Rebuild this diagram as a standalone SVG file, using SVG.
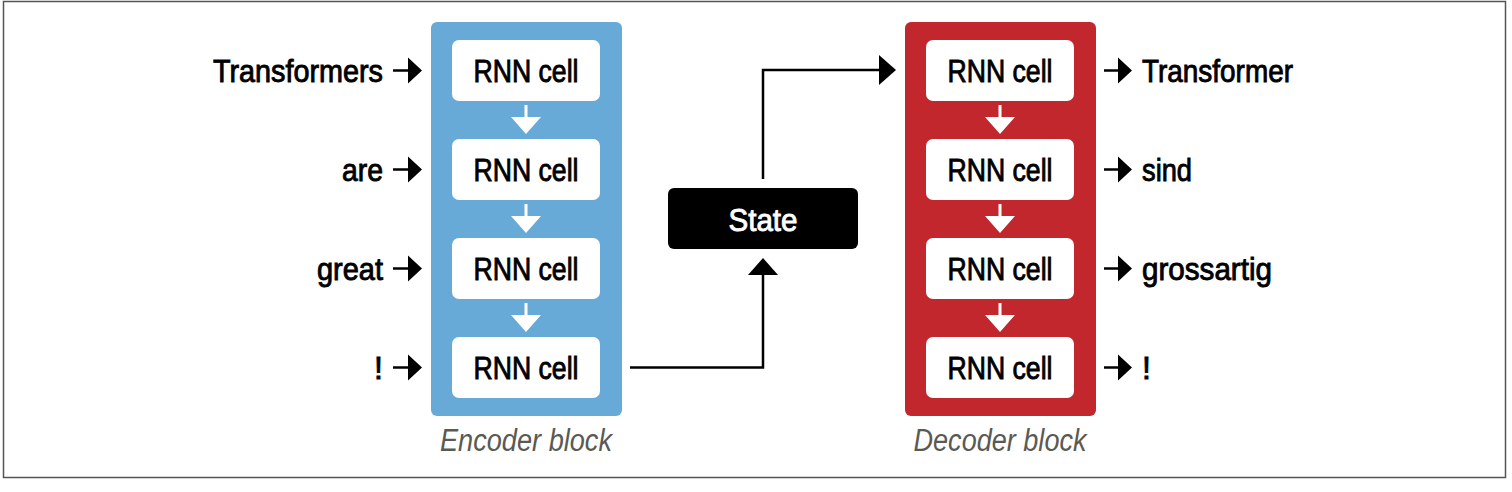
<svg xmlns="http://www.w3.org/2000/svg" width="1512" height="492" viewBox="0 0 1512 492">
<defs>
<style>
.lbl{font-family:"Liberation Sans",Arial,sans-serif;font-size:32px;fill:#000;stroke:#000;stroke-width:0.9px;}
.cellt{font-family:"Liberation Sans",Arial,sans-serif;font-size:32px;fill:#000;stroke:#000;stroke-width:0.9px;text-anchor:middle;}
.blk{font-family:"Liberation Sans",Arial,sans-serif;font-size:31px;font-style:italic;fill:#5a5a54;text-anchor:middle;}
.cell{fill:#fff;}
.wline{stroke:#fff;stroke-width:3;fill:none;}
.whead{fill:#fff;}
.bline{stroke:#000;stroke-width:2.5;fill:none;}
.bhead{fill:#000;}
</style>
</defs>
<rect x="3.5" y="1.5" width="1502" height="476" fill="#fff" stroke="#555" stroke-width="1.5"/>

<g id="encoder">
<rect x="431" y="22" width="191" height="394" rx="6" fill="#67aad8"/>
<text class="blk" x="526" y="451" textLength="172" lengthAdjust="spacingAndGlyphs">Encoder block</text>
</g>
<g id="decoder">
<rect x="905" y="22" width="191" height="394" rx="6" fill="#c1272d"/>
<text class="blk" x="1000" y="451" textLength="173" lengthAdjust="spacingAndGlyphs">Decoder block</text>
</g>

<g id="enc-cell-1"><rect class="cell" x="452" y="40" width="148" height="61" rx="7"/><text class="cellt" x="526" y="82" textLength="105" lengthAdjust="spacingAndGlyphs">RNN cell</text></g>
<g id="enc-cell-2"><rect class="cell" x="452" y="139" width="148" height="61" rx="7"/><text class="cellt" x="526" y="181" textLength="105" lengthAdjust="spacingAndGlyphs">RNN cell</text></g>
<g id="enc-cell-3"><rect class="cell" x="452" y="238" width="148" height="61" rx="7"/><text class="cellt" x="526" y="280" textLength="105" lengthAdjust="spacingAndGlyphs">RNN cell</text></g>
<g id="enc-cell-4"><rect class="cell" x="452" y="337" width="148" height="61" rx="7"/><text class="cellt" x="526" y="379" textLength="105" lengthAdjust="spacingAndGlyphs">RNN cell</text></g>

<g id="dec-cell-1"><rect class="cell" x="926" y="40" width="148" height="61" rx="7"/><text class="cellt" x="1000" y="82" textLength="105" lengthAdjust="spacingAndGlyphs">RNN cell</text></g>
<g id="dec-cell-2"><rect class="cell" x="926" y="139" width="148" height="61" rx="7"/><text class="cellt" x="1000" y="181" textLength="105" lengthAdjust="spacingAndGlyphs">RNN cell</text></g>
<g id="dec-cell-3"><rect class="cell" x="926" y="238" width="148" height="61" rx="7"/><text class="cellt" x="1000" y="280" textLength="105" lengthAdjust="spacingAndGlyphs">RNN cell</text></g>
<g id="dec-cell-4"><rect class="cell" x="926" y="337" width="148" height="61" rx="7"/><text class="cellt" x="1000" y="379" textLength="105" lengthAdjust="spacingAndGlyphs">RNN cell</text></g>

<g id="state">
<rect x="668" y="188" width="190" height="61" rx="6" fill="#000"/>
<text x="763" y="231" font-family="'Liberation Sans',Arial,sans-serif" font-size="32" fill="#fff" stroke="#fff" stroke-width="0.9" text-anchor="middle" textLength="69" lengthAdjust="spacingAndGlyphs">State</text>
</g>

<g id="inputs">
<text class="lbl" x="383" y="82" text-anchor="end" textLength="170" lengthAdjust="spacingAndGlyphs">Transformers</text>
<text class="lbl" x="383" y="181" text-anchor="end" textLength="41" lengthAdjust="spacingAndGlyphs">are</text>
<text class="lbl" x="383" y="280" text-anchor="end" textLength="66" lengthAdjust="spacingAndGlyphs">great</text>
<text class="lbl" x="383" y="379" text-anchor="end">!</text>
</g>
<g id="outputs">
<text class="lbl" x="1142" y="82" textLength="151" lengthAdjust="spacingAndGlyphs">Transformer</text>
<text class="lbl" x="1142" y="181" textLength="50" lengthAdjust="spacingAndGlyphs">sind</text>
<text class="lbl" x="1142" y="280" textLength="130" lengthAdjust="spacingAndGlyphs">grossartig</text>
<text class="lbl" x="1142" y="379">!</text>
</g>

<g id="connectors">
<path class="wline" d="M526 105V120M526 204V219M526 303V318"/>
<path class="whead" d="M511 117H541L526 134ZM511 216H541L526 233ZM511 315H541L526 332Z"/>
<path class="wline" d="M1000 105V120M1000 204V219M1000 303V318"/>
<path class="whead" d="M985 117H1015L1000 134ZM985 216H1015L1000 233ZM985 315H1015L1000 332Z"/>
<path class="bline" d="M393 70.5H410M393 169.5H410M393 268.5H410M393 367.5H410"/>
<path class="bhead" d="M408 57.5L422 70.5L408 83.5ZM408 156.5L422 169.5L408 182.5ZM408 255.5L422 268.5L408 281.5ZM408 354.5L422 367.5L408 380.5Z"/>
<path class="bline" d="M1104 70.5H1120M1104 169.5H1120M1104 268.5H1120M1104 367.5H1120"/>
<path class="bhead" d="M1118 57.5L1132 70.5L1118 83.5ZM1118 156.5L1132 169.5L1118 182.5ZM1118 255.5L1132 268.5L1118 281.5ZM1118 354.5L1132 367.5L1118 380.5Z"/>
<path class="bline" d="M630 367.5H763V273"/>
<path class="bhead" d="M748 275H778L763 258Z"/>
<path class="bline" d="M763 179V70H881"/>
<path class="bhead" d="M879 55V85L896 70Z"/>
</g>
</svg>
